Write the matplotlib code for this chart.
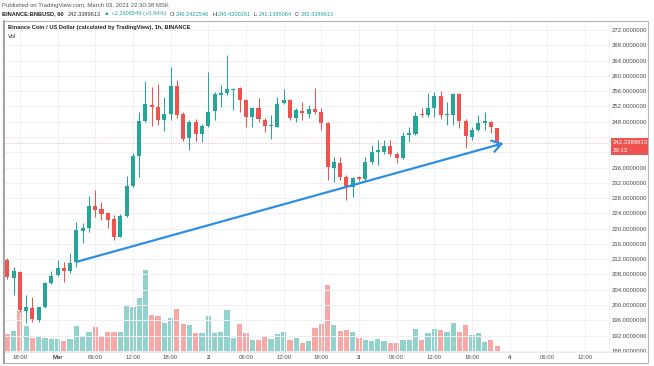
import matplotlib
matplotlib.use("Agg")
import matplotlib.pyplot as plt
from matplotlib.patches import Rectangle
from matplotlib.lines import Line2D

# ---------------- data (BINANCE:BNBUSD, 1h, Feb 28 16:00 -> Mar 3 22:00) ----------------
opens = [211.8, 207.2, 208.7, 198.5, 199.3, 196.1, 199.6, 205.8, 207.9, 209.6,
         209.0, 211.3, 219.5, 220.2, 226.0, 225.1, 224.0, 222.4, 217.9, 223.3,
         231.2, 239.1, 248.3, 252.4, 251.8, 248.4, 250.0, 257.3, 250.0, 243.6,
         248.0, 244.8, 246.9, 250.8, 255.0, 255.4, 256.3, 256.7, 253.7, 249.3,
         251.7, 248.4, 246.9, 246.7, 252.8, 253.7, 248.9, 250.8, 250.0, 251.2,
         250.6, 247.6, 235.8, 237.3, 233.4, 230.8, 233.4, 232.9, 237.5, 240.1,
         240.1, 241.6, 239.5, 238.4, 244.5, 244.8, 250.0, 249.8, 251.7, 254.7,
         249.8, 249.8, 255.2, 248.3, 244.1, 245.8, 247.6, 248.0, 246.2422546]
highs = [212.3, 210.0, 209.0, 202.6, 202.2, 199.6, 206.1, 208.8, 211.8, 211.3,
         213.5, 221.8, 221.6, 228.5, 230.1, 227.1, 224.4, 223.6, 223.8, 233.8,
         239.9, 250.6, 258.7, 257.0, 257.9, 254.4, 262.2, 258.9, 250.5, 248.5,
         248.6, 247.3, 261.1, 255.8, 257.6, 265.5, 256.8, 257.0, 254.0, 251.9,
         254.1, 249.0, 249.7, 254.5, 256.5, 254.0, 251.5, 253.2, 252.3, 256.7,
         251.5, 248.0, 238.8, 238.8, 234.0, 233.5, 233.7, 238.8, 241.9, 243.2,
         243.2, 243.2, 240.0, 245.4, 246.7, 250.6, 251.5, 255.4, 255.9, 256.1,
         253.2, 255.4, 255.4, 248.6, 246.7, 249.7, 250.6, 248.3, 246.4200261]
lows = [206.8, 202.6, 198.3, 195.3, 195.6, 195.6, 199.3, 205.5, 207.5, 206.1,
        208.3, 210.0, 216.2, 219.2, 223.1, 222.3, 220.1, 217.0, 217.7, 223.0,
        231.0, 233.6, 248.0, 246.9, 247.1, 245.6, 248.5, 248.9, 243.0, 240.6,
        243.0, 242.8, 246.5, 248.4, 251.9, 255.0, 251.1, 250.6, 246.7, 246.5,
        248.0, 245.4, 243.4, 246.5, 252.5, 248.5, 247.8, 248.4, 249.0, 250.0,
        245.8, 232.7, 232.3, 232.7, 227.5, 228.4, 232.6, 232.6, 236.8, 236.7,
        239.6, 239.0, 237.1, 238.2, 242.8, 244.5, 249.3, 249.2, 249.1, 248.6,
        247.1, 247.1, 246.3, 241.0, 243.2, 245.5, 245.8, 245.1, 241.1385064]
closes = [207.4, 208.9, 198.7, 199.6, 196.3, 199.4, 205.7, 207.6, 209.6, 209.0,
          210.9, 219.6, 220.2, 226.0, 224.9, 223.8, 222.3, 217.9, 223.3, 231.2,
          239.1, 248.3, 252.5, 251.8, 248.4, 250.0, 257.3, 249.8, 243.4, 248.0,
          244.8, 246.9, 250.6, 255.2, 255.4, 256.6, 256.6, 253.7, 249.3, 251.5,
          248.7, 246.9, 247.1, 252.7, 253.7, 248.9, 251.1, 250.2, 251.2, 250.6,
          247.6, 236.2, 237.5, 233.4, 231.0, 233.3, 232.9, 237.5, 240.1, 240.6,
          241.6, 239.5, 238.4, 244.3, 245.0, 249.5, 249.8, 251.7, 254.7, 249.8,
          250.0, 255.2, 248.3, 244.3, 245.8, 247.6, 248.2, 246.7, 242.3389613]
volumes = [18.3, 21.0, 41.3, 26.0, 14.3, 14.7, 14.0, 12.7, 12.7, 10.7,
           13.0, 26.0, 15.3, 20.0, 25.0, 16.3, 20.0, 20.0, 20.0, 46.7,
           45.0, 53.7, 82.3, 37.3, 36.0, 29.3, 34.3, 43.0, 28.3, 27.0,
           19.0, 19.0, 36.0, 19.3, 20.3, 42.0, 14.3, 27.7, 19.3, 12.0,
           11.7, 16.0, 12.7, 18.3, 20.0, 12.0, 14.0, 9.3, 11.3, 24.3,
           28.3, 66.7, 27.0, 21.0, 22.0, 20.0, 14.3, 12.0, 10.7, 13.0,
           11.3, 9.0, 9.0, 12.3, 12.3, 23.3, 11.7, 18.7, 23.3, 22.0,
           20.0, 29.3, 19.7, 27.3, 17.0, 19.3, 10.0, 12.3, 5.7]
bullish = [1 if c >= o else 0 for o, c in zip(opens, closes)]
bullish[9] = 0; bullish[66] = 0  # tiny red bodies

time_tick_pos = [2, 8, 14, 20, 26, 32, 38, 44, 50, 56, 62, 68, 74, 80, 86, 92]
time_tick_labels = ["18:00", "Mar", "06:00", "12:00", "18:00", "2", "06:00", "12:00",
                    "18:00", "3", "06:00", "12:00", "18:00", "4", "06:00", "12:00"]
day_labels = ["Mar", "2", "3", "4"]
price_ticks = [188, 192, 196, 200, 204, 208, 212, 216, 220, 224, 228, 232, 236,
               240, 244, 248, 252, 256, 260, 264, 268, 272]
last_price = 242.3389613
countdown = "29:13"
trend_x = [11, 79.0]
trend_y = [211.3, 242.35]

# ---------------- styling ----------------
GREEN = "#26a69a"
RED = "#ef5350"
FONT = ["Liberation Sans", "DejaVu Sans"]
plt.rcParams["font.family"] = FONT

W, H = 654, 366
fig = plt.figure(figsize=(W / 100, H / 100), dpi=100)
fig.patch.set_facecolor("white")

def fx(px):
    return px / W

def fy(py):
    return 1 - py / H

L, R, T, B = 4, 609, 21, 352
ax = fig.add_axes([fx(L), fy(B), (R - L) / W, (B - T) / H])
axv = ax.twinx()
ax.set_zorder(axv.get_zorder() + 1)
ax.patch.set_visible(False)
axv.patch.set_facecolor("white")

n = len(opens)
xs = list(range(n))

# volume
vcol = [GREEN if b else RED for b in bullish]
axv.bar(xs, volumes, width=0.84, color=vcol, alpha=0.5, linewidth=0)
axv.set_ylim(0, max(volumes) * 4.02)
axv.set_yticks([])
for s in axv.spines.values():
    s.set_visible(False)

# candles
ccol = [GREEN if b else RED for b in bullish]
ax.vlines(xs, lows, highs, colors=ccol, linewidth=0.75, zorder=3)
body_bottom = [min(o, c) for o, c in zip(opens, closes)]
body_h = [max(abs(c - o), 0.3) for o, c in zip(opens, closes)]
ax.bar(xs, body_h, bottom=body_bottom, width=0.64, color=ccol, linewidth=0, zorder=4)

# last price line
ax.axhline(last_price, color=RED, lw=0.6, ls=(0, (1, 1.5)), alpha=0.55, zorder=2)

# trend line with arrow
ax.annotate("", xy=(trend_x[1], trend_y[1]), xytext=(trend_x[0], trend_y[0]),
            arrowprops=dict(arrowstyle="->,head_length=0.65,head_width=0.42",
                            color="#2d8fe3", lw=1.6, shrinkA=0, shrinkB=0,
                            mutation_scale=10), zorder=6)

ax.set_xlim((L - 7.3) / 6.28, (R - 7.3) / 6.28)
ax.set_ylim(272 - (B - 30) / 3.82, 272 + (30 - T) / 3.82)

ax.yaxis.tick_right()
ax.set_yticks(price_ticks)
ax.set_yticklabels(["" if abs(p - last_price) < 3 else f"{p:.7f}" for p in price_ticks])
ax.tick_params(axis="y", length=0, pad=2.0, labelsize=4.3, labelcolor="#4a4a4a")
ax.set_xticks(time_tick_pos)
ax.set_xticklabels(time_tick_labels)
ax.tick_params(axis="x", length=0, pad=2.5, labelsize=4.3, labelcolor="#4a4a4a")
for t in ax.get_xticklabels():
    if t.get_text() in day_labels:
        t.set_fontweight("bold")
ax.grid(True, color="#eef0f4", lw=0.7, zorder=0)
ax.set_axisbelow(True)
for name, s in ax.spines.items():
    s.set_visible(False)

# chart frame, scale separators
fig.add_artist(Rectangle((fx(3), fy(363)), (648 - 3) / W, (363 - 21) / H,
                         transform=fig.transFigure, fill=False,
                         edgecolor="#b5b5b5", lw=0.8, zorder=10))
fig.add_artist(Line2D([fx(3.5), fx(3.5)], [fy(363), fy(21)], transform=fig.transFigure,
                      color="#9a9a9a", lw=1.2, zorder=10))
fig.add_artist(Line2D([fx(3), fx(648)], [fy(352), fy(352)], transform=fig.transFigure,
                      color="#e6e6e6", lw=0.6, zorder=9))
fig.add_artist(Line2D([fx(609), fx(609)], [fy(352), fy(21)], transform=fig.transFigure,
                      color="#f0f0f0", lw=0.6, zorder=9))

# last price tag
fig.add_artist(Rectangle((fx(611), fy(155)), 37 / W, 17 / H, transform=fig.transFigure,
                         facecolor=RED, edgecolor="none", zorder=11))
fig.text(fx(613), fy(142.5), f"{last_price:.7f}", color="white", fontsize=4.3,
         va="center", ha="left", zorder=12)
fig.text(fx(613), fy(150), countdown, color="white", fontsize=4.3,
         va="center", ha="left", zorder=12)

# header texts
fig.text(fx(2), fy(6), "Published on TradingView.com, March 03, 2021 22:30:38 MSK",
         fontsize=4.3, color="#555555", va="center", ha="left")

# (text, colour, weight, gap after in px)
parts = [("BINANCE:BNBUSD, 60", "#222222", "bold", 4),
         ("242.3389613", "#333333", "normal", 3),
         ("▲ +2.2606549 (+0.94%)", GREEN, "normal", 4),
         ("O:", "#333333", "normal", 0), ("246.2422546", GREEN, "normal", 3),
         ("H:", "#333333", "normal", 0), ("246.4200261", GREEN, "normal", 3),
         ("L:", "#333333", "normal", 0), ("241.1385064", GREEN, "normal", 3),
         ("C:", "#333333", "normal", 0), ("242.3389613", GREEN, "normal", 0)]
renderer = fig.canvas.get_renderer()
x_px = 2.0
for txt, col, wt, gap in parts:
    t = fig.text(fx(x_px), fy(14), txt, fontsize=4.05, color=col, fontweight=wt,
                 va="center", ha="left")
    bb = t.get_window_extent(renderer=renderer)
    x_px += bb.width + gap

fig.text(fx(8), fy(28), "Binance Coin / US Dollar (calculated by TradingView), 1h, BINANCE",
         fontsize=4.1, color="#222222", fontweight="bold", va="center", ha="left")
fig.text(fx(8), fy(37), "Vol", fontsize=4.3, color="#333333", va="center", ha="left")

fig.savefig("out.png", dpi=100, facecolor="white")
